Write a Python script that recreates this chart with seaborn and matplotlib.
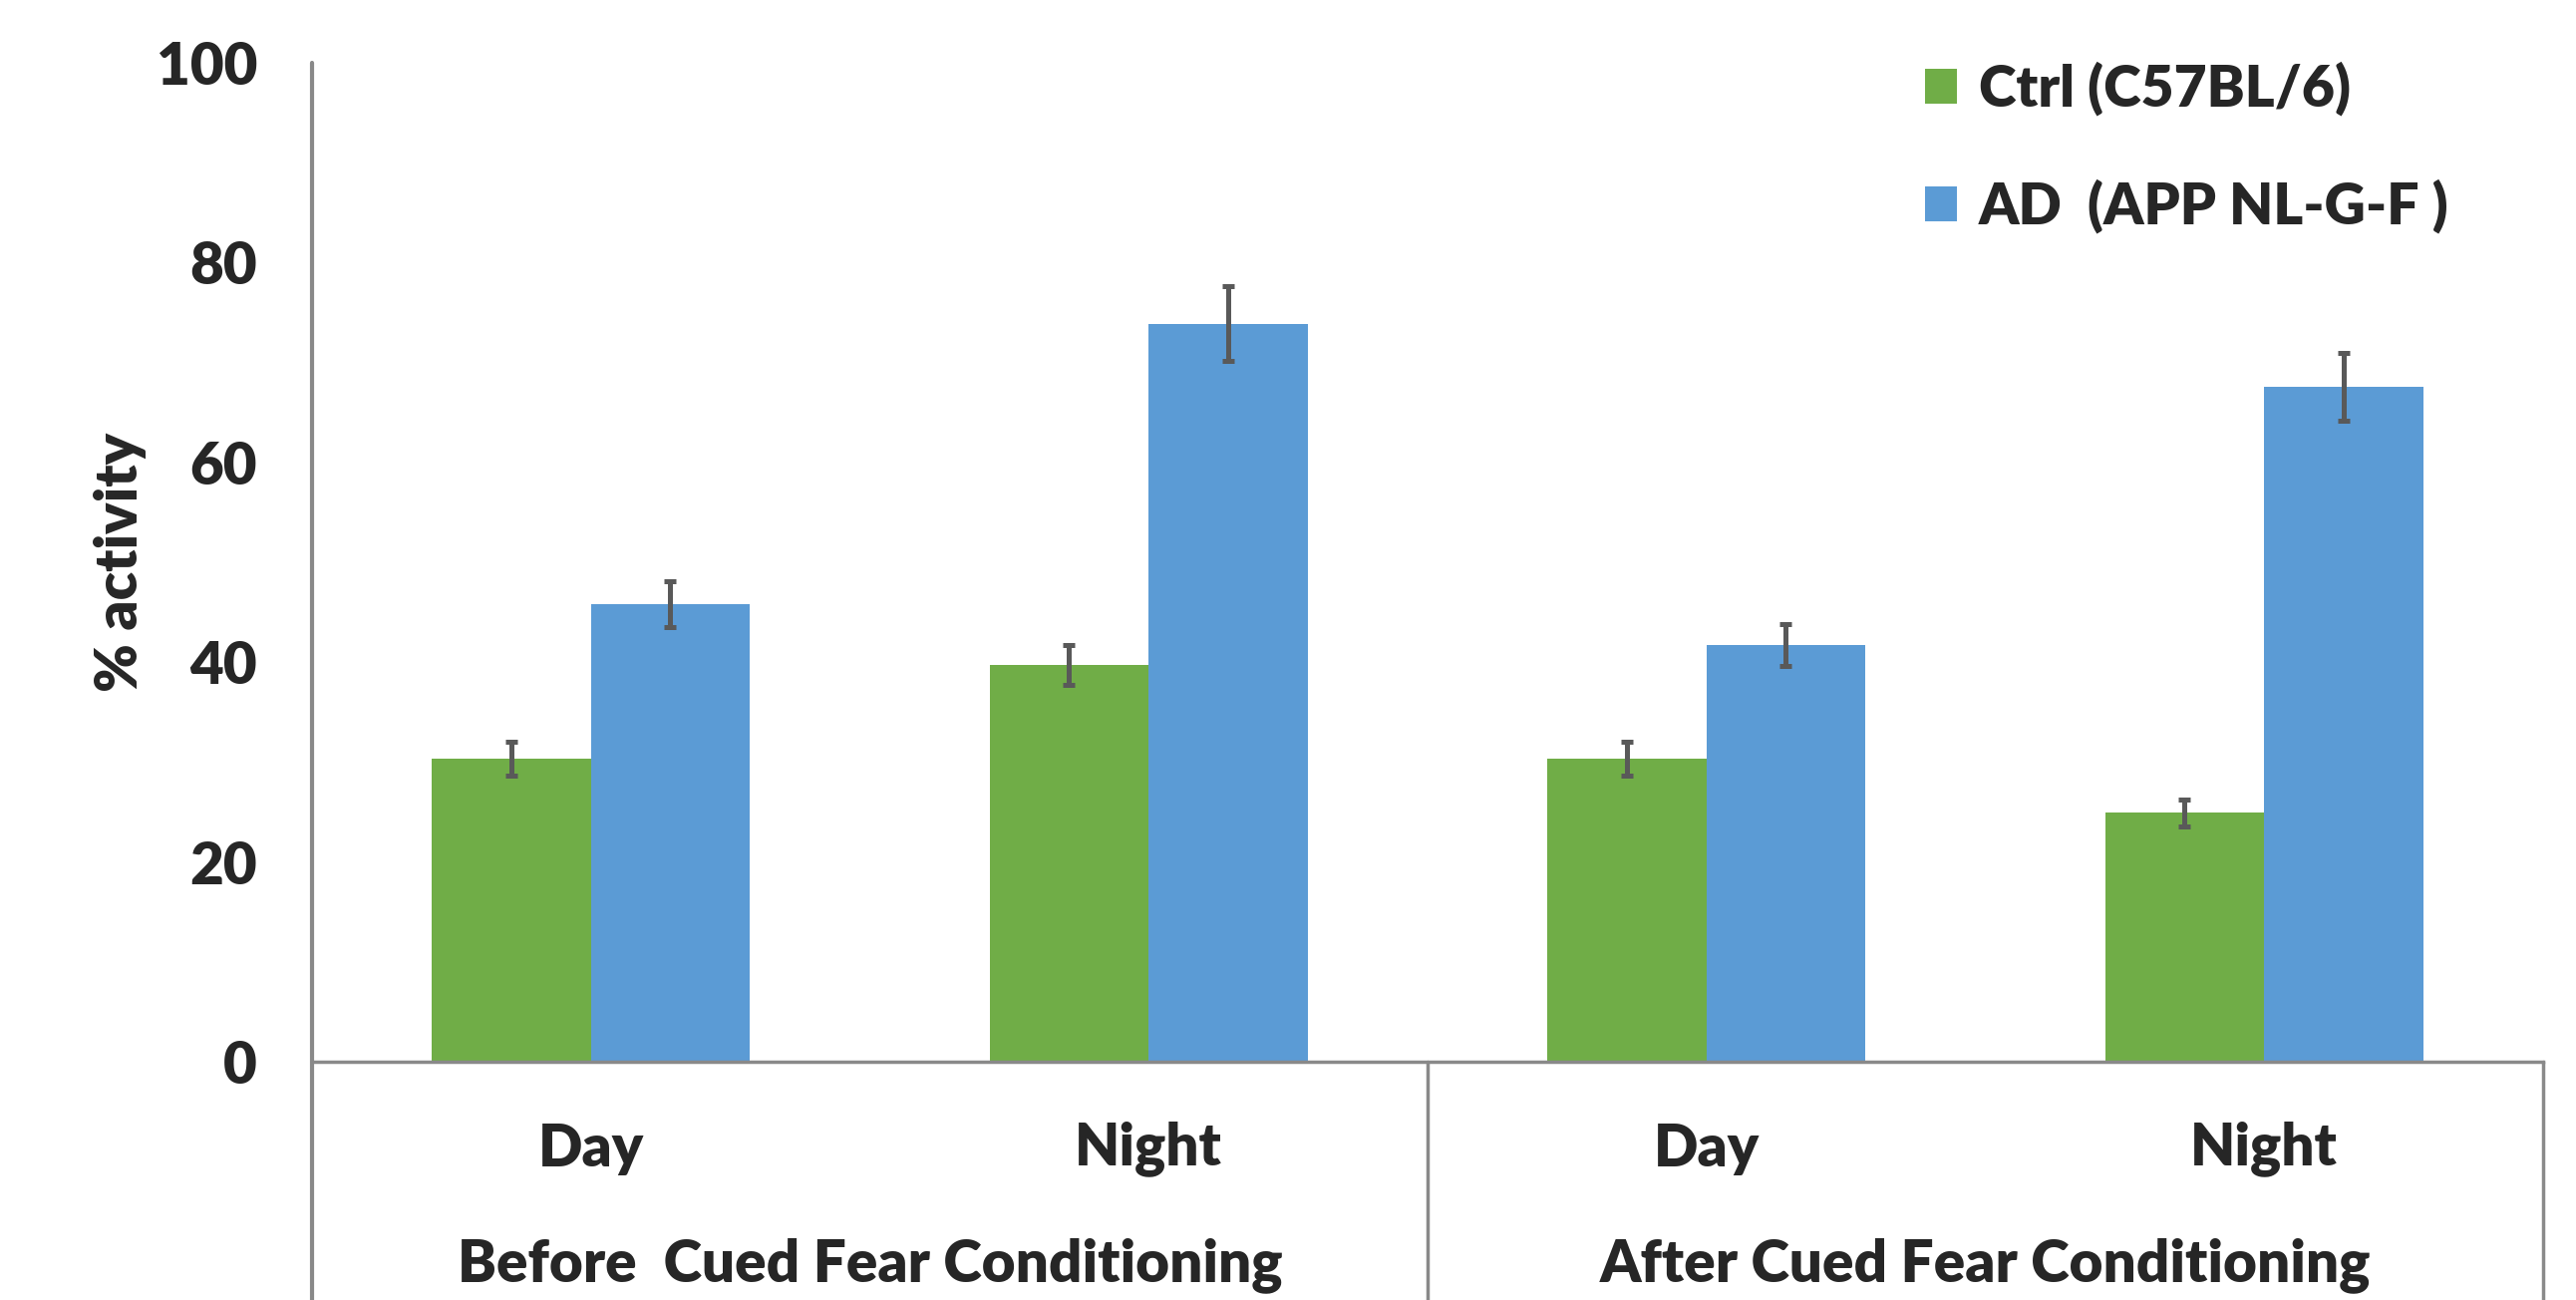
import numpy as np
import pandas as pd
import matplotlib
matplotlib.use("Agg")
import matplotlib.pyplot as plt
import seaborn as sns
from matplotlib.lines import Line2D

# ---------------- data ----------------
phases = ["Before  Cued Fear Conditioning", "After Cued Fear Conditioning"]
periods = ["Day", "Night", "Day", "Night"]
phase_index = [0, 0, 1, 1]
genotypes = ["Ctrl (C57BL/6)", "AD  (APP NL-G-F )"]
ctrl_values = [30.3, 39.7, 30.3, 24.9]
ad_values = [45.8, 73.9, 41.7, 67.6]
ctrl_err = [1.7, 2.0, 1.7, 1.3]
ad_err = [2.3, 3.7, 2.1, 3.4]
y_ticks = [0, 20, 40, 60, 80, 100]

colors = ["#70AD47", "#5B9BD5"]
axis_gray = "#898989"
err_gray = "#595959"
FW = "heavy"

cats = [f"{phases[p]}|{d}" for p, d in zip(phase_index, periods)]
rows = []
for g, vals in zip(genotypes, [ctrl_values, ad_values]):
    for c, v in zip(cats, vals):
        rows.append({"cat": c, "genotype": g, "value": v})
df = pd.DataFrame(rows)
errs = {genotypes[0]: ctrl_err, genotypes[1]: ad_err}

# ---------------- style ----------------
sns.set_theme(style="white")
plt.rcParams["font.family"] = ["Lato", "DejaVu Sans"]
plt.rcParams["font.weight"] = FW

fig = plt.figure(figsize=(25.84, 13.04), dpi=100)
ax = fig.add_axes([0.1211, 0.1833, 0.8661, 0.7684])

sns.barplot(data=df, x="cat", y="value", hue="genotype", order=cats,
            hue_order=genotypes, palette=colors, width=0.57, errorbar=None,
            saturation=1, linewidth=0, ax=ax)

# error bars from bar geometry
for cont, g in zip(ax.containers, genotypes):
    xs = [b.get_x() + b.get_width() / 2 for b in cont]
    hs = [b.get_height() for b in cont]
    ax.errorbar(xs, hs, yerr=errs[g], fmt="none", ecolor=err_gray,
                elinewidth=3.6, capsize=4.2, capthick=3.6, zorder=5)

ax.set_xlim(-0.5, len(cats) - 0.5)
ax.set_ylim(0, 100)
ax.set_yticks(y_ticks)
ax.set_yticklabels([str(t) for t in y_ticks], fontsize=42, fontweight=FW)
ax.set_xticks(range(len(cats)))
ax.set_xticklabels(periods, fontsize=42, fontweight=FW, va="center")
ax.tick_params(axis="y", length=0, pad=39.5)
ax.tick_params(axis="x", length=0, pad=63)
ax.set_xlabel("")
ax.set_ylabel("% activity", fontsize=42, fontweight=FW)
ax.yaxis.set_label_coords(-0.074, 0.5)

for s in ["top", "right", "left"]:
    ax.spines[s].set_visible(False)
ax.spines["bottom"].set_color(axis_gray)
ax.spines["bottom"].set_linewidth(2.5)

# axis line extending below baseline, and group dividers
ext = -0.2385
ax.add_line(Line2D([0, 0], [ext, 1], transform=ax.transAxes, color=axis_gray,
                   lw=3.0, clip_on=False, zorder=6))
xt = ax.get_xaxis_transform()
for xb in [1.5, 3.5]:
    ax.add_line(Line2D([xb, xb], [ext, 0], transform=xt, color=axis_gray,
                       lw=2.5, clip_on=False))

# group labels
for i, ph in enumerate(phases):
    idx = [k for k, p in enumerate(phase_index) if p == i]
    ax.text(np.mean(idx), -0.2036, ph, transform=xt, ha="center", va="center",
            fontsize=42, fontweight=FW)

# legend
handles, labels = ax.get_legend_handles_labels()
ax.legend(handles, labels, loc="upper left", bbox_to_anchor=(0.7473, 0.953),
          bbox_transform=fig.transFigure, frameon=False,
          handlelength=0.57, handleheight=0.57, handletextpad=0.38,
          labelspacing=1.12, borderpad=0, borderaxespad=0,
          prop={"weight": FW, "size": 41})

fig.savefig("out.png", dpi=100)
